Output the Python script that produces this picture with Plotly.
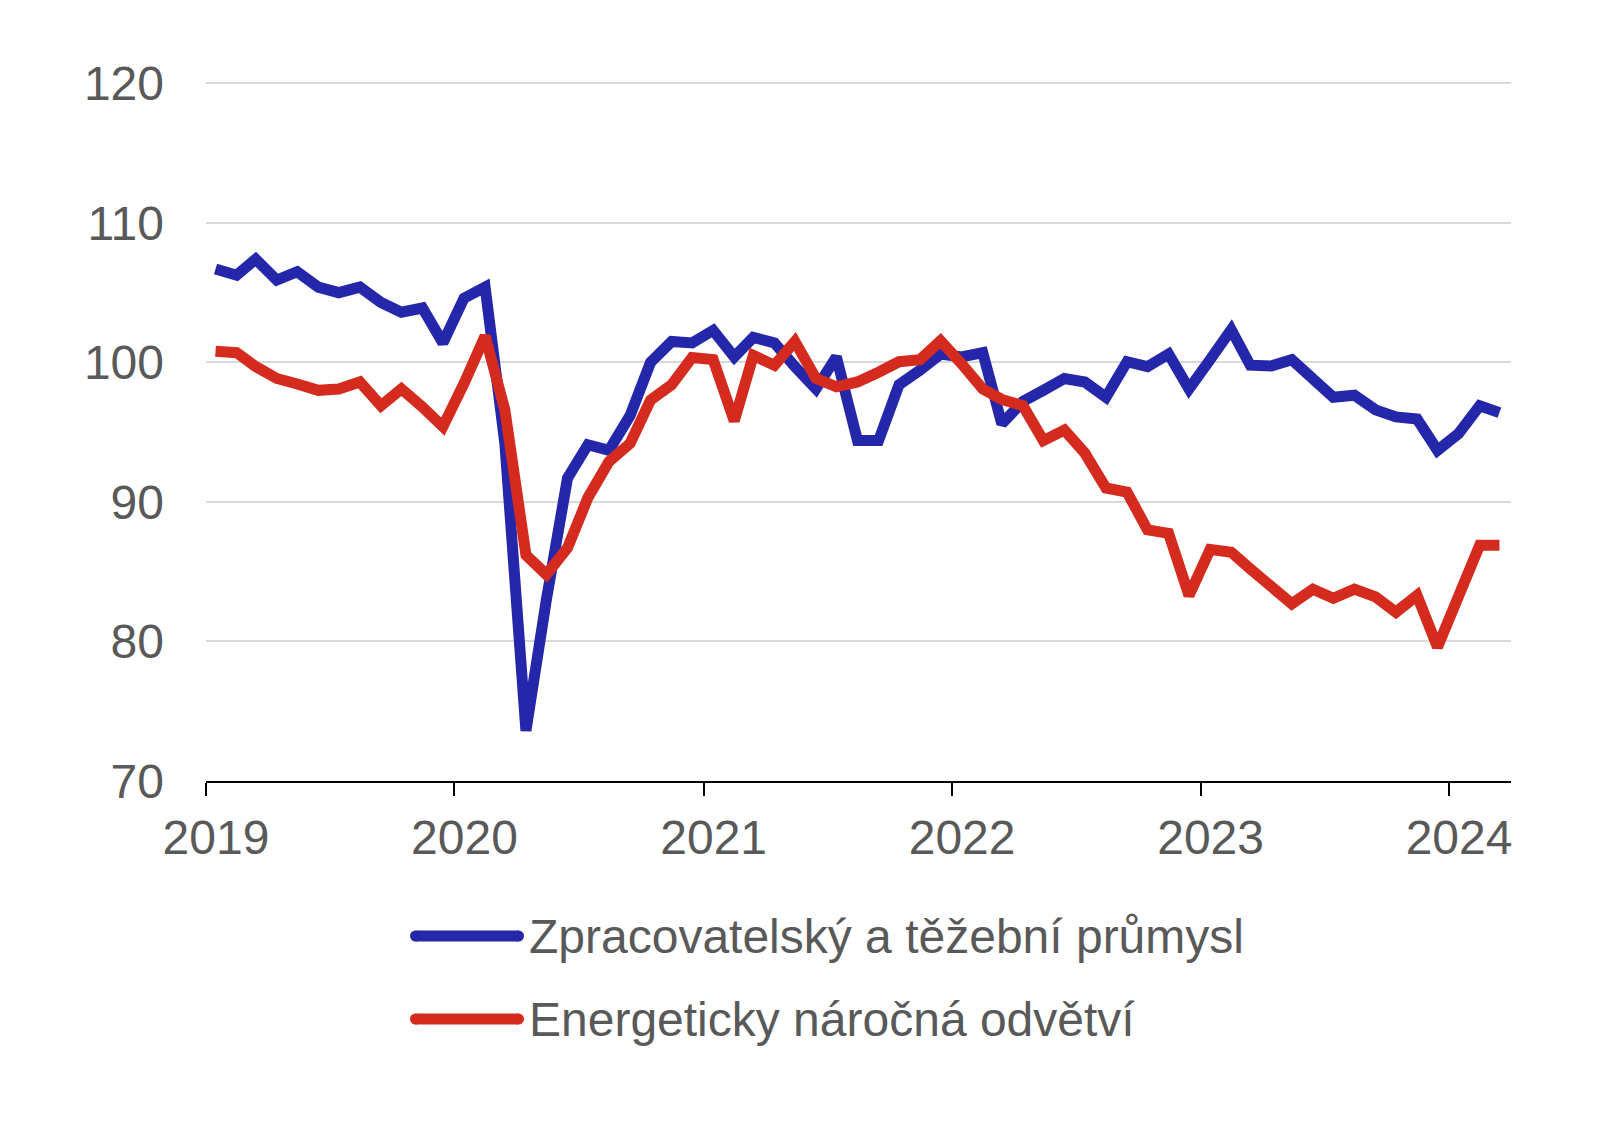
import plotly.graph_objects as go

# Monthly observations, Jan 2019 - Mar 2024 (plotted mid-month)
months = [f"{y}-{m:02d}-15" for y in range(2019, 2025) for m in range(1, 13)][:63]

manufacturing = [106.7, 106.25, 107.4, 105.9, 106.5, 105.4, 105.0, 105.4, 104.3, 103.6, 103.9, 101.4,
                 104.6, 105.4, 94.2, 73.6, 83.0, 91.7, 94.1, 93.7, 96.2, 100.0, 101.5, 101.4,
                 102.3, 100.4, 101.8, 101.4, 99.7, 98.1, 100.4, 94.4, 94.4, 98.4, 99.45, 100.6,
                 100.4, 100.7, 95.6, 97.2, 98.0, 98.85, 98.6, 97.5, 100.05, 99.7, 100.6, 98.1,
                 100.2, 102.35, 99.8, 99.75, 100.2, 98.85, 97.5, 97.65, 96.6, 96.1, 95.95, 93.7,
                 94.9, 96.9, 96.4]

energy_intensive = [100.8, 100.7, 99.7, 98.85, 98.45, 98.0, 98.1, 98.6, 96.9, 98.1, 96.8, 95.4,
                    98.5, 101.9, 96.6, 86.2, 84.8, 86.7, 90.3, 92.9, 94.2, 97.3, 98.4, 100.35,
                    100.2, 95.8, 100.5, 99.8, 101.5, 98.85, 98.25, 98.6, 99.3, 100.05, 100.2, 101.55,
                    99.9, 98.1, 97.35, 96.9, 94.4, 95.15, 93.5, 91.0, 90.7, 88.0, 87.75, 83.3,
                    86.6, 86.4, 85.2, 84.0, 82.7, 83.75, 83.1, 83.75, 83.2, 82.1, 83.3, 79.6,
                    83.1, 86.9, 86.9]

series_names = ["Zpracovatelský a těžební průmysl", "Energeticky náročná odvětví"]
series_colors = ["#2427a9", "#d52b1f"]

year_ticks = ["2019-01-01", "2020-01-01", "2021-01-01", "2022-01-01", "2023-01-01", "2024-01-01"]
year_labels = ["2019", "2020", "2021", "2022", "2023", "2024"]
y_ticks = [70, 80, 90, 100, 110, 120]

FONT = "Liberation Sans, Arial, sans-serif"
GRAY = "#595959"
LW = 11

fig = go.Figure()
for name, vals, col in zip(series_names, [manufacturing, energy_intensive], series_colors):
    fig.add_trace(go.Scatter(x=months, y=vals, mode="lines", name=name,
                             line=dict(color=col, width=LW), showlegend=False))

# page body has an 8px margin, so the figure is made 8px smaller
OFF = 8
W, H = 1617 - OFF, 1125 - OFF
L, R, T, B = 198, 106, 74, 344
fig.update_layout(
    width=W, height=H,
    margin=dict(l=L, r=R, t=T, b=B),
    paper_bgcolor="white", plot_bgcolor="white",
    font=dict(family=FONT, size=48, color=GRAY),
    xaxis=dict(type="date", range=["2019-01-01", "2024-04-01"],
               tickvals=year_ticks, ticktext=year_labels,
               ticks="outside", ticklen=13, tickwidth=2, tickcolor="black",
               showline=True, linecolor="black", linewidth=2,
               showgrid=False, zeroline=False,
               ticklabelshift=10, ticklabelstandoff=0,
               tickfont=dict(size=48, color=GRAY, family=FONT)),
    yaxis=dict(range=[70, 120.1], tickvals=y_ticks, showgrid=True,
               gridcolor="#d9d9d9", gridwidth=1.5, zeroline=False,
               showline=False, ticks="", ticklabelstandoff=41,
               tickfont=dict(size=48, color=GRAY, family=FONT)),
)

# Manual legend (long line samples with round ends, as in the original)
plot_w = W - L - R
plot_h = H - T - B
def px_x(x):  # page pixel -> paper
    return (x - OFF - L) / plot_w
def px_y(y):
    return (H - B - (y - OFF)) / plot_h

legend_rows = [936, 1019]
x_start, x_end = 415.5, 518.5
for name, col, ypx in zip(series_names, series_colors, legend_rows):
    fig.add_shape(type="line", xref="paper", yref="paper",
                  x0=px_x(x_start), x1=px_x(x_end), y0=px_y(ypx), y1=px_y(ypx),
                  line=dict(color=col, width=LW))
    for xc in (x_start, x_end):
        fig.add_shape(type="circle", xref="paper", yref="paper",
                      xsizemode="pixel", ysizemode="pixel",
                      xanchor=px_x(xc), yanchor=px_y(ypx),
                      x0=-LW / 2, x1=LW / 2, y0=-LW / 2, y1=LW / 2,
                      fillcolor=col, line=dict(width=0))
    fig.add_annotation(xref="paper", yref="paper", x=px_x(527), y=px_y(ypx),
                       text=name, showarrow=False, xanchor="left", yanchor="middle",
                       font=dict(size=48, color=GRAY, family=FONT))

fig.write_html("out.html")
